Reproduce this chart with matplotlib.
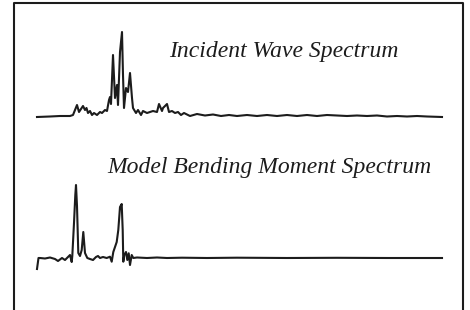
import matplotlib
matplotlib.use("Agg")
import matplotlib.pyplot as plt
from matplotlib.lines import Line2D

# frequency (arbitrary units across the analysed band) and spectral amplitude
wave_freq = [0, 13, 23, 33, 36, 40, 42, 44, 46, 48, 49.5, 51, 53, 55, 57, 60, 63, 65,
             68, 70, 72, 73, 74, 76, 78, 80, 81, 83, 85, 86, 87, 89, 91, 93, 95, 96,
             99, 101, 104, 106, 110, 113, 116, 120, 122, 125, 126, 130, 132, 135, 138,
             141, 144, 147, 153, 160, 168, 176, 184, 192, 200, 210, 220, 230, 240, 250,
             260, 270, 280, 290, 300, 310, 320, 330, 340, 350, 360, 370, 380, 390, 405]
wave_amp = [-1, -0.5, 0, 0, 1, 11, 4, 7, 10, 6, 8, 3, 5, 1, 3, 1, 4, 3,
            6, 5, 16, 19, 12, 61, 18, 31, 11, 64, 84, 41, 8, 28, 24, 43, 18, 8,
            3, 6, 1, 5, 3, 4, 5, 4, 12, 5, 8, 12, 4, 5, 3,
            4, 1, 3, 0, 2, 0.5, 1.5, 0, 1, 0, 1, 0, 1, 0, 1,
            0, 1, 0, 1, 0.5, 0, 0.5, 0, 0.5, -0.5, 0, -0.5, 0, -0.5, -1]

moment_freq = [0, 1.5, 3, 8, 13, 18, 21, 25, 28, 31, 33, 34.7, 35.3, 37, 38.3, 39, 40,
               41.3, 43, 44.7, 46.3, 48, 50.3, 53, 56, 59, 61, 63, 66, 69.7, 73, 74.7,
               76.3, 78, 79.7, 81.3, 83, 84.7, 85.7, 86.3, 87.3, 89, 90.3, 91.7, 93,
               94.7, 96.3, 100, 110, 120, 130, 145, 170, 200, 250, 300, 350, 405]
moment_amp = [-11, 0, 0, -0.5, 0.5, -1, -3, 0, -2, 1, 3, -4, 2, 35, 63, 73, 52,
              5, 2, 8, 26, 5, 0, -1, -2, 1, 2, 0, 1, 0, 1.3, -3.7,
              6, 11, 16, 28, 51, 54, 28, -3.7, 3, 6, -2, 4.7, -7,
              3, 0, 0.5, 0, 0.5, 0, 0.3, 0, 0.3, 0, 0.2, 0, 0]

W, H = 470, 310
fig = plt.figure(figsize=(W / 100, H / 100), dpi=100)
fig.patch.set_facecolor("white")

ink = "#1c1c1c"


def px_axes(x0, x1, y_top, y_bot):
    # place an axes using pixel positions of the figure
    return fig.add_axes([x0 / W, 1 - y_bot / H, (x1 - x0) / W, (y_bot - y_top) / H])


ax1 = px_axes(37, 442, 26, 126)
ax1.plot(wave_freq, wave_amp, color=ink, lw=1.5, clip_on=False)
ax1.set_xlim(0, 405)
ax1.set_ylim(-10, 90)
ax1.axis("off")

ax2 = px_axes(37, 442, 173, 273)
ax2.plot(moment_freq, moment_amp, color=ink, lw=1.5, clip_on=False)
ax2.set_xlim(0, 405)
ax2.set_ylim(-15, 85)
ax2.axis("off")

txt = dict(family="Liberation Serif", style="italic", color=ink, fontsize=17,
           ha="center", va="center")
fig.text(284 / W, 1 - 52 / H, "Incident Wave Spectrum", **txt)
fig.text(269 / W, 1 - 167 / H, "Model Bending Moment Spectrum", **txt)

# open-bottomed frame
fx = [14 / W, 14 / W, 463 / W, 463 / W]
fy = [0, 1 - 3 / H, 1 - 3 / H, 0]
fig.add_artist(Line2D(fx, fy, transform=fig.transFigure, color=ink, lw=1.5))

fig.savefig("out.png", dpi=100)
